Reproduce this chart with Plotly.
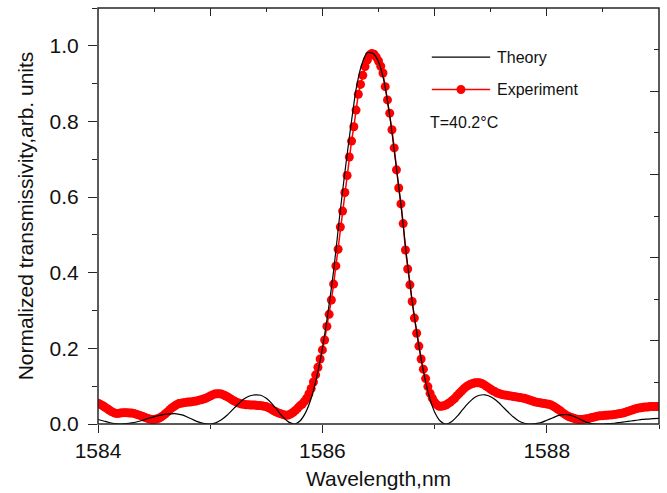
import numpy as np
import plotly.graph_objects as go

# ---------------- data ----------------
# Experiment: sampled every 0.02 nm from 1584.00 to 1589.00
exp_start, exp_step = 1584.0, 0.02
experiment = [
    0.055, 0.052, 0.049, 0.045, 0.041, 0.037, 0.033, 0.030, 0.028, 0.028,
    0.029, 0.030, 0.030, 0.030, 0.029, 0.029, 0.028, 0.026, 0.024, 0.022,
    0.020, 0.017, 0.015, 0.013, 0.012, 0.012, 0.013, 0.015, 0.018, 0.022,
    0.027, 0.032, 0.038, 0.043, 0.047, 0.051, 0.054, 0.055, 0.056, 0.057,
    0.058, 0.058, 0.059, 0.060, 0.061, 0.063, 0.064, 0.066, 0.068, 0.071,
    0.074, 0.077, 0.079, 0.080, 0.080, 0.079, 0.077, 0.074, 0.071, 0.067,
    0.063, 0.060, 0.057, 0.055, 0.053, 0.052, 0.051, 0.051, 0.050, 0.050,
    0.050, 0.049, 0.049, 0.048, 0.047, 0.046, 0.043, 0.040, 0.036, 0.033,
    0.030, 0.028, 0.026, 0.024, 0.023, 0.024, 0.027, 0.031, 0.036, 0.042,
    0.048, 0.053, 0.060, 0.068, 0.080, 0.094, 0.111, 0.130, 0.150, 0.172,
    0.196, 0.222, 0.258, 0.290, 0.328, 0.370, 0.418, 0.462, 0.521, 0.563,
    0.612, 0.657, 0.706, 0.748, 0.786, 0.830, 0.872, 0.898, 0.922, 0.945,
    0.962, 0.975, 0.980, 0.978, 0.970, 0.960, 0.946, 0.928, 0.892, 0.857,
    0.822, 0.778, 0.730, 0.672, 0.624, 0.582, 0.530, 0.460, 0.410, 0.368,
    0.324, 0.280, 0.240, 0.206, 0.172, 0.145, 0.120, 0.099, 0.081, 0.068,
    0.058, 0.051, 0.047, 0.047, 0.048, 0.050, 0.054, 0.058, 0.063, 0.068,
    0.075, 0.081, 0.087, 0.093, 0.098, 0.102, 0.105, 0.107, 0.109, 0.109,
    0.109, 0.107, 0.104, 0.100, 0.096, 0.092, 0.088, 0.085, 0.082, 0.080,
    0.078, 0.077, 0.076, 0.075, 0.074, 0.073, 0.072, 0.071, 0.070, 0.069,
    0.068, 0.066, 0.064, 0.062, 0.060, 0.058, 0.057, 0.056, 0.055, 0.054,
    0.053, 0.052, 0.050, 0.047, 0.043, 0.039, 0.035, 0.030, 0.026, 0.022,
    0.019, 0.017, 0.015, 0.013, 0.012, 0.012, 0.012, 0.013, 0.014, 0.015,
    0.017, 0.018, 0.020, 0.021, 0.022, 0.022, 0.023, 0.023, 0.024, 0.024,
    0.025, 0.026, 0.027, 0.028, 0.029, 0.031, 0.033, 0.035, 0.037, 0.039,
    0.041, 0.042, 0.043, 0.044, 0.045, 0.045, 0.046, 0.046, 0.046, 0.046,
    0.046,
]

# Theory: sampled every 0.05 nm from 1584.00 to 1589.00
th_start, th_step = 1584.0, 0.05
theory = [
    0.012, 0.008, 0.004, 0.001, 0.000, 0.001, 0.003, 0.006, 0.010, 0.015,
    0.019, 0.023, 0.026, 0.027, 0.027, 0.024, 0.018, 0.011, 0.005, 0.001,
    0.000, 0.003, 0.011, 0.023, 0.038, 0.053, 0.066, 0.074, 0.077, 0.076,
    0.068, 0.054, 0.036, 0.018, 0.005, 0.000, 0.008, 0.030, 0.068, 0.125,
    0.200, 0.295, 0.405, 0.540, 0.665, 0.780, 0.885, 0.950, 0.982, 0.980,
    0.958, 0.905, 0.815, 0.700, 0.580, 0.445, 0.325, 0.225, 0.140, 0.075,
    0.032, 0.008, 0.000, 0.006, 0.020, 0.038, 0.055, 0.069, 0.076, 0.077,
    0.072, 0.062, 0.048, 0.033, 0.019, 0.008, 0.002, 0.000, 0.001, 0.004,
    0.010, 0.016, 0.022, 0.025, 0.024, 0.019, 0.012, 0.005, 0.001, 0.000,
    0.000, 0.001, 0.002, 0.004, 0.006, 0.008, 0.010, 0.012, 0.013, 0.014,
    0.015,
]

x_ticks = [1584, 1586, 1588]
x_minor = [1585, 1587, 1589]
top_ticks = [1584, 1585, 1586, 1587, 1588, 1589]
top_minor = [1584.5, 1585.5, 1586.5, 1587.5, 1588.5]
y_ticks = [0.0, 0.2, 0.4, 0.6, 0.8, 1.0]
y_tick_labels = ["0.0", "0.2", "0.4", "0.6", "0.8", "1.0"]
y_minor = [0.1, 0.3, 0.5, 0.7, 0.9, 1.1]
right_ticks = [0.22, 0.44, 0.66, 0.88]
right_minor = [0.11, 0.33, 0.55, 0.77, 0.99]
x_title = "Wavelength,nm"
y_title = "Normalized transmissivity,arb. units"
legend_names = ["Theory", "Experiment"]
note_text = "T=40.2°C"

exp_x = np.round(exp_start + exp_step * np.arange(len(experiment)), 3)
th_x = np.round(th_start + th_step * np.arange(len(theory)), 3)

# ---------------- figure ----------------
FONT = "Arial, Liberation Sans, sans-serif"
AX = "#262626"
TXT = "#111111"
RED = "#ff0000"

fig = go.Figure()
fig.add_trace(go.Scatter(
    x=exp_x, y=experiment, mode="lines+markers", name=legend_names[1],
    line=dict(color=RED, width=1.5),
    marker=dict(color=RED, size=9, line=dict(width=0)),
    showlegend=False, cliponaxis=True,
))
fig.add_trace(go.Scatter(
    x=th_x, y=theory, mode="lines", name=legend_names[0],
    line=dict(color="black", width=1.2, shape="spline", smoothing=0.6),
    showlegend=False,
))
# carrier trace for the top / right tick axes (draws nothing)
fig.add_trace(go.Scatter(x=[None], y=[None], xaxis="x2", yaxis="y2",
                         mode="lines", showlegend=False, hoverinfo="skip"))

tick_common = dict(showgrid=False, zeroline=False, tickcolor=AX, tickwidth=1.3,
                   automargin=False, showline=False)

fig.update_layout(
    width=667, height=493,
    margin=dict(l=98, r=8, t=8, b=69),
    paper_bgcolor="white", plot_bgcolor="white",
    font=dict(family=FONT, color=TXT),
    xaxis=dict(range=[1584, 1589], tickvals=x_ticks, ticktext=[str(v) for v in x_ticks],
               ticks="outside", ticklen=8,
               minor=dict(tickvals=x_minor, ticks="outside", ticklen=4,
                          tickcolor=AX, tickwidth=1.3),
               tickfont=dict(size=21, family=FONT, color=TXT),
               title=dict(text=x_title, font=dict(size=21, family=FONT, color=TXT),
                          standoff=10),
               **tick_common),
    yaxis=dict(range=[0, 1.1], tickvals=y_ticks, ticktext=y_tick_labels,
               ticks="outside", ticklen=9, ticklabelstandoff=5,
               minor=dict(tickvals=y_minor, ticks="outside", ticklen=5,
                          tickcolor=AX, tickwidth=1.3),
               tickfont=dict(size=21, family=FONT, color=TXT),
               title=dict(text=y_title, font=dict(size=21, family=FONT, color=TXT),
                          standoff=10),
               **tick_common),
    xaxis2=dict(range=[1584, 1589], overlaying="x", side="top", anchor="y",
                tickvals=top_ticks, ticks="inside", ticklen=8, showticklabels=False,
                minor=dict(tickvals=top_minor, ticks="inside", ticklen=4,
                           tickcolor=AX, tickwidth=1.3),
                **tick_common),
    yaxis2=dict(range=[0, 1.1], overlaying="y", side="right", anchor="x",
                tickvals=right_ticks, ticks="inside", ticklen=9, showticklabels=False,
                minor=dict(tickvals=right_minor, ticks="inside", ticklen=5,
                           tickcolor=AX, tickwidth=1.3),
                **tick_common),
)

# plot frame
fig.add_shape(type="rect", xref="paper", yref="paper", x0=0, x1=1, y0=0, y1=1,
              line=dict(color=AX, width=1.5), fillcolor="rgba(0,0,0,0)", layer="above")

# ---------------- hand-drawn legend (paper coordinates) ----------------
lx0, lx1, ltext, tx = 0.595, 0.699, 0.707, 0.588
ly1, ly2, ly3 = 0.882, 0.804, 0.724
fig.add_shape(type="line", xref="paper", yref="paper", x0=lx0, x1=lx1, y0=ly1, y1=ly1,
              line=dict(color="black", width=1.3))
fig.add_shape(type="line", xref="paper", yref="paper", x0=lx0, x1=lx1, y0=ly2, y1=ly2,
              line=dict(color=RED, width=1.5))
mx = (lx0 + lx1) / 2
fig.add_shape(type="circle", xref="paper", yref="paper",
              x0=mx - 4.5 / 561, x1=mx + 4.5 / 561, y0=ly2 - 4.5 / 415.5, y1=ly2 + 4.5 / 415.5,
              fillcolor=RED, line=dict(color=RED, width=0))
for txt, yy, xx in [(legend_names[0], ly1, ltext), (legend_names[1], ly2, ltext),
                    (note_text, ly3, tx)]:
    fig.add_annotation(text=txt, xref="paper", yref="paper", x=xx, y=yy,
                       xanchor="left", yanchor="middle", showarrow=False,
                       font=dict(size=16, family=FONT, color=TXT))

# remove the browser's default 8px page margin so the figure sits at (0, 0)
fig.write_html(
    "out.html",
    config={"displayModeBar": False},
    post_script="document.body.style.margin='0';document.body.style.padding='0';",
)
